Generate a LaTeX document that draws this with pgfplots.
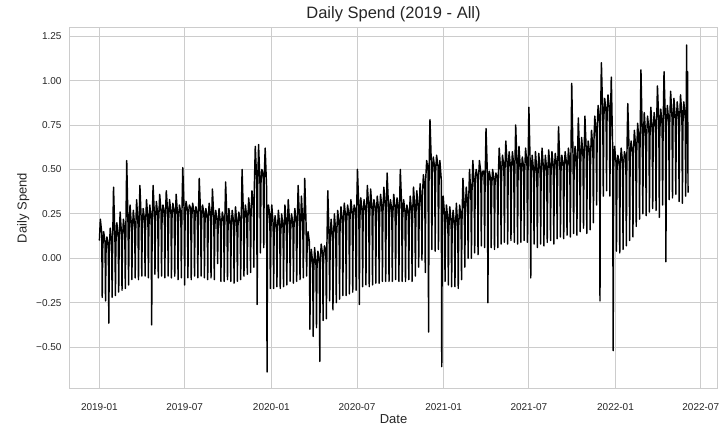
\documentclass[border=0pt]{standalone}
\usepackage{fontspec}
\setmainfont{Liberation Sans}
\usepackage{pgfplots}
\pgfplotsset{compat=1.18}
\definecolor{txt}{HTML}{262626}
\definecolor{gridc}{HTML}{CCCCCC}
\begin{document}
\begin{tikzpicture}
\useasboundingbox (-70pt,-37pt) rectangle (649pt,388pt);
\begin{axis}[
 at={(0,0)}, anchor=south west,
 scale only axis, width=647pt, height=360pt,
 xmin=-62.45, xmax=1311.5, ymin=-0.730, ymax=1.296,
 axis line style={gridc, line width=1pt},
 grid=major, major grid style={gridc, line width=0.9pt},
 tick style={draw=none},
 xtick={0,181,365,547,731,912,1096,1277},
 xticklabels={2019-01,2019-07,2020-01,2020-07,2021-01,2021-07,2022-01,2022-07},
 ytick={-0.5,-0.25,0,0.25,0.5,0.75,1,1.25},
 yticklabels={−0.50,−0.25,0.00,0.25,0.50,0.75,1.00,1.25},
 ticklabel style={font=\fontsize{10}{12}\selectfont, text=txt},
 xticklabel style={yshift=-12pt},
 yticklabel style={xshift=-5pt},
 xlabel={Date}, ylabel={Daily Spend},
 label style={font=\fontsize{13}{15}\selectfont, text=txt},
 xlabel style={yshift=3pt},
 title={Daily Spend (2019 - All)},
 title style={font=\fontsize{16.5}{19}\selectfont, text=txt, yshift=-3pt},
]
\addplot[black, line width=1.45pt, line join=round] coordinates {
(0,0.10)(2,0.22)(5,0.14)(6,-0.22)
(7,0.05)(9,0.15)(12,0.09)(13,-0.24)
(14,0.03)(16,0.12)(19,0.07)(20,-0.365)
(21,0.05)(23,0.17)(26,0.09)(27,-0.22)
(28,0.07)(30,0.40)(33,0.11)(34,-0.21)
(35,0.08)(37,0.20)(40,0.12)(41,-0.19)
(42,0.09)(44,0.26)(47,0.13)(48,-0.18)
(49,0.10)(51,0.22)(54,0.14)(55,-0.17)
(56,0.12)(58,0.55)(61,0.16)(62,-0.15)
(63,0.14)(65,0.30)(68,0.18)(69,-0.12)
(70,0.14)(72,0.27)(75,0.18)(76,-0.11)
(77,0.15)(79,0.33)(82,0.19)(83,-0.12)
(84,0.16)(86,0.41)(89,0.20)(90,-0.10)
(91,0.17)(93,0.28)(96,0.21)(97,-0.10)
(98,0.18)(100,0.33)(103,0.22)(104,-0.11)
(105,0.17)(107,0.30)(110,0.21)(111,-0.375)
(112,0.19)(114,0.41)(117,0.23)(118,-0.09)
(119,0.20)(121,0.32)(124,0.24)(125,-0.11)
(126,0.22)(128,0.36)(131,0.26)(132,-0.10)
(133,0.21)(135,0.30)(138,0.25)(139,-0.11)
(140,0.22)(142,0.38)(145,0.26)(146,-0.10)
(147,0.21)(149,0.33)(152,0.25)(153,-0.11)
(154,0.22)(156,0.31)(159,0.26)(160,-0.10)
(161,0.20)(163,0.36)(166,0.24)(167,-0.12)
(168,0.21)(170,0.30)(173,0.25)(174,-0.11)
(175,0.22)(177,0.51)(180,0.26)(181,-0.15)
(182,0.23)(184,0.32)(187,0.27)(188,-0.11)
(189,0.24)(191,0.30)(194,0.28)(195,-0.12)
(196,0.22)(198,0.31)(201,0.26)(202,-0.10)
(203,0.21)(205,0.29)(208,0.25)(209,-0.11)
(210,0.20)(212,0.45)(215,0.24)(216,-0.10)
(217,0.21)(219,0.30)(222,0.25)(223,-0.11)
(224,0.19)(226,0.28)(229,0.23)(230,-0.12)
(231,0.20)(233,0.31)(236,0.24)(237,-0.11)
(238,0.18)(240,0.39)(243,0.22)(244,-0.12)
(245,0.17)(247,0.27)(250,0.21)(251,-0.03)
(252,0.16)(254,0.28)(257,0.20)(258,-0.13)
(259,0.17)(261,0.26)(264,0.21)(265,-0.13)
(266,0.16)(268,0.43)(271,0.20)(272,-0.12)
(273,0.15)(275,0.28)(278,0.19)(279,-0.13)
(280,0.16)(282,0.27)(285,0.20)(286,-0.14)
(287,0.15)(289,0.29)(292,0.19)(293,-0.13)
(294,0.17)(296,0.26)(299,0.21)(300,-0.12)
(301,0.18)(303,0.50)(306,0.22)(307,-0.10)
(308,0.19)(310,0.30)(313,0.23)(314,-0.09)
(315,0.20)(317,0.34)(320,0.24)(321,-0.08)
(322,0.25)(324,0.38)(327,0.29)(328,-0.05)
(329,0.40)(331,0.63)(334,0.44)(335,-0.26)
(336,0.38)(338,0.64)(341,0.42)(342,0.03)
(343,0.42)(345,0.50)(348,0.46)(349,0.06)
(350,0.45)(352,0.62)(355,0.40)(356,-0.64)
(357,0.20)(359,0.30)(362,0.24)(363,-0.17)
(364,0.15)(366,0.30)(369,0.19)(370,-0.17)
(371,0.13)(373,0.24)(376,0.17)(377,-0.16)
(378,0.14)(380,0.27)(383,0.18)(384,-0.17)
(385,0.13)(387,0.25)(390,0.17)(391,-0.16)
(392,0.14)(394,0.30)(397,0.18)(398,-0.15)
(399,0.15)(401,0.33)(404,0.19)(405,-0.13)
(406,0.15)(408,0.25)(411,0.19)(412,-0.14)
(413,0.16)(415,0.28)(418,0.20)(419,-0.13)
(420,0.16)(422,0.41)(425,0.20)(426,-0.12)
(427,0.15)(429,0.35)(432,0.19)(433,-0.11)
(434,0.14)(436,0.45)(439,0.18)(440,-0.10)
(441,0.05)(443,0.15)(446,0.09)(447,-0.40)
(448,-0.07)(450,0.05)(453,-0.03)(454,-0.44)
(455,-0.08)(457,0.06)(460,-0.04)(461,-0.39)
(462,-0.06)(464,0.04)(467,-0.02)(468,-0.58)
(469,-0.02)(471,0.08)(474,0.02)(475,-0.35)
(476,0.00)(478,0.07)(481,0.04)(482,-0.34)
(483,0.05)(485,0.38)(488,0.09)(489,-0.24)
(490,0.08)(492,0.22)(495,0.12)(496,-0.29)
(497,0.10)(499,0.25)(502,0.14)(503,-0.25)
(504,0.14)(506,0.27)(509,0.18)(510,-0.23)
(511,0.17)(513,0.29)(516,0.21)(517,-0.21)
(518,0.19)(520,0.31)(523,0.23)(524,-0.21)
(525,0.20)(527,0.30)(530,0.24)(531,-0.20)
(532,0.21)(534,0.33)(537,0.25)(538,-0.19)
(539,0.22)(541,0.30)(544,0.26)(545,-0.18)
(546,0.23)(548,0.50)(551,0.27)(552,-0.26)
(553,0.22)(555,0.34)(558,0.26)(559,-0.16)
(560,0.23)(562,0.33)(565,0.27)(566,-0.15)
(567,0.24)(569,0.41)(572,0.28)(573,-0.16)
(574,0.23)(576,0.39)(579,0.27)(580,-0.15)
(581,0.24)(583,0.33)(586,0.28)(587,-0.14)
(588,0.23)(590,0.35)(593,0.27)(594,-0.14)
(595,0.24)(597,0.36)(600,0.28)(601,-0.13)
(602,0.25)(604,0.40)(607,0.29)(608,-0.13)
(609,0.24)(611,0.48)(614,0.28)(615,-0.13)
(616,0.23)(618,0.33)(621,0.27)(622,-0.13)
(623,0.24)(625,0.36)(628,0.28)(629,-0.12)
(630,0.23)(632,0.34)(635,0.27)(636,-0.13)
(637,0.24)(639,0.50)(642,0.28)(643,-0.13)
(644,0.22)(646,0.33)(649,0.26)(650,-0.13)
(651,0.21)(653,0.30)(656,0.25)(657,-0.12)
(658,0.22)(660,0.35)(663,0.26)(664,-0.13)
(665,0.23)(667,0.40)(670,0.27)(671,-0.10)
(672,0.24)(674,0.38)(677,0.28)(678,-0.05)
(679,0.25)(681,0.42)(684,0.29)(685,-0.01)
(686,0.35)(688,0.47)(691,0.39)(692,-0.08)
(693,0.45)(695,0.55)(698,0.49)(699,-0.415)
(700,0.48)(702,0.78)(705,0.52)(706,0.05)
(707,0.47)(709,0.57)(712,0.51)(713,0.04)
(714,0.48)(716,0.58)(719,0.52)(720,0.05)
(721,0.40)(723,0.55)(726,0.44)(727,-0.61)
(728,0.20)(730,0.35)(733,0.24)(734,-0.13)
(735,0.17)(737,0.30)(740,0.21)(741,-0.15)
(742,0.16)(744,0.29)(747,0.20)(748,-0.16)
(749,0.15)(751,0.27)(754,0.19)(755,-0.16)
(756,0.14)(758,0.31)(761,0.18)(762,-0.17)
(763,0.18)(765,0.30)(768,0.22)(769,-0.12)
(770,0.22)(772,0.45)(775,0.26)(776,-0.05)
(777,0.26)(779,0.40)(782,0.30)(783,0.00)
(784,0.30)(786,0.50)(789,0.34)(790,0.00)
(791,0.36)(793,0.55)(796,0.40)(797,0.03)
(798,0.42)(800,0.50)(803,0.46)(804,0.02)
(805,0.44)(807,0.55)(810,0.48)(811,0.07)
(812,0.45)(814,0.49)(817,0.49)(818,0.06)
(819,0.42)(821,0.73)(824,0.46)(825,-0.25)
(826,0.40)(828,0.49)(831,0.44)(832,0.06)
(833,0.40)(835,0.50)(838,0.44)(839,0.05)
(840,0.41)(842,0.48)(845,0.45)(846,0.06)
(847,0.45)(849,0.62)(852,0.49)(853,0.08)
(854,0.47)(856,0.58)(859,0.51)(860,0.09)
(861,0.48)(863,0.66)(866,0.52)(867,0.08)
(868,0.47)(870,0.60)(873,0.51)(874,0.10)
(875,0.48)(877,0.60)(880,0.52)(881,0.09)
(882,0.47)(884,0.75)(887,0.51)(888,0.08)
(889,0.46)(891,0.63)(894,0.50)(895,0.09)
(896,0.47)(898,0.57)(901,0.51)(902,0.10)
(903,0.48)(905,0.62)(908,0.52)(909,0.09)
(910,0.46)(912,0.85)(915,0.50)(916,-0.11)
(917,0.45)(919,0.58)(922,0.49)(923,0.08)
(924,0.44)(926,0.60)(929,0.48)(930,0.06)
(931,0.45)(933,0.59)(936,0.49)(937,0.08)
(938,0.46)(940,0.62)(943,0.50)(944,0.07)
(945,0.45)(947,0.58)(950,0.49)(951,0.09)
(952,0.46)(954,0.61)(957,0.50)(958,0.10)
(959,0.47)(961,0.60)(964,0.51)(965,0.08)
(966,0.48)(968,0.59)(971,0.52)(972,0.11)
(973,0.47)(975,0.74)(978,0.51)(979,0.12)
(980,0.48)(982,0.58)(985,0.52)(986,0.11)
(987,0.49)(989,0.60)(992,0.53)(993,0.13)
(994,0.48)(996,0.62)(999,0.52)(1000,0.12)
(1001,0.50)(1003,0.985)(1006,0.54)(1007,0.14)
(1008,0.49)(1010,0.63)(1013,0.53)(1014,0.13)
(1015,0.52)(1017,0.79)(1020,0.56)(1021,0.15)
(1022,0.53)(1024,0.68)(1027,0.57)(1028,0.17)
(1029,0.55)(1031,0.80)(1034,0.59)(1035,0.14)
(1036,0.55)(1038,0.66)(1041,0.59)(1042,0.16)
(1043,0.57)(1045,0.72)(1048,0.61)(1049,0.20)
(1050,0.65)(1052,0.80)(1055,0.69)(1056,0.30)
(1057,0.72)(1059,0.86)(1062,0.76)(1063,-0.24)
(1064,0.75)(1066,1.10)(1069,0.79)(1070,0.35)
(1071,0.78)(1073,0.90)(1076,0.82)(1077,0.38)
(1078,0.80)(1080,0.92)(1083,0.84)(1084,0.35)
(1085,0.75)(1087,1.02)(1090,0.60)(1091,-0.52)
(1092,0.50)(1094,0.63)(1097,0.54)(1098,0.04)
(1099,0.49)(1101,0.58)(1104,0.53)(1105,0.03)
(1106,0.50)(1108,0.62)(1111,0.54)(1112,0.05)
(1113,0.52)(1115,0.60)(1118,0.56)(1119,0.07)
(1120,0.55)(1122,0.87)(1125,0.59)(1126,0.10)
(1127,0.56)(1129,0.66)(1132,0.60)(1133,0.12)
(1134,0.58)(1136,0.72)(1139,0.62)(1140,0.18)
(1141,0.60)(1143,0.76)(1146,0.64)(1147,0.22)
(1148,0.62)(1150,1.06)(1153,0.66)(1154,0.25)
(1155,0.65)(1157,0.82)(1160,0.69)(1161,0.24)
(1162,0.68)(1164,0.80)(1167,0.72)(1168,0.26)
(1169,0.67)(1171,0.85)(1174,0.71)(1175,0.28)
(1176,0.70)(1178,0.82)(1181,0.74)(1182,0.27)
(1183,0.72)(1185,0.97)(1188,0.76)(1189,0.23)
(1190,0.71)(1192,0.84)(1195,0.75)(1196,0.30)
(1197,0.72)(1199,1.05)(1202,0.76)(1203,-0.02)
(1204,0.73)(1206,0.86)(1209,0.77)(1210,0.33)
(1211,0.75)(1213,0.94)(1216,0.79)(1217,0.34)
(1218,0.74)(1220,0.90)(1223,0.78)(1224,0.36)
(1225,0.75)(1227,0.88)(1230,0.79)(1231,0.32)
(1232,0.76)(1234,0.92)(1237,0.80)(1238,0.31)
(1239,0.75)(1241,0.88)(1244,0.79)(1245,0.35)
(1246,0.77)(1247,1.20)(1248,0.70)(1249,1.05)(1250,0.37)
};
\end{axis}
\end{tikzpicture}
\end{document}
